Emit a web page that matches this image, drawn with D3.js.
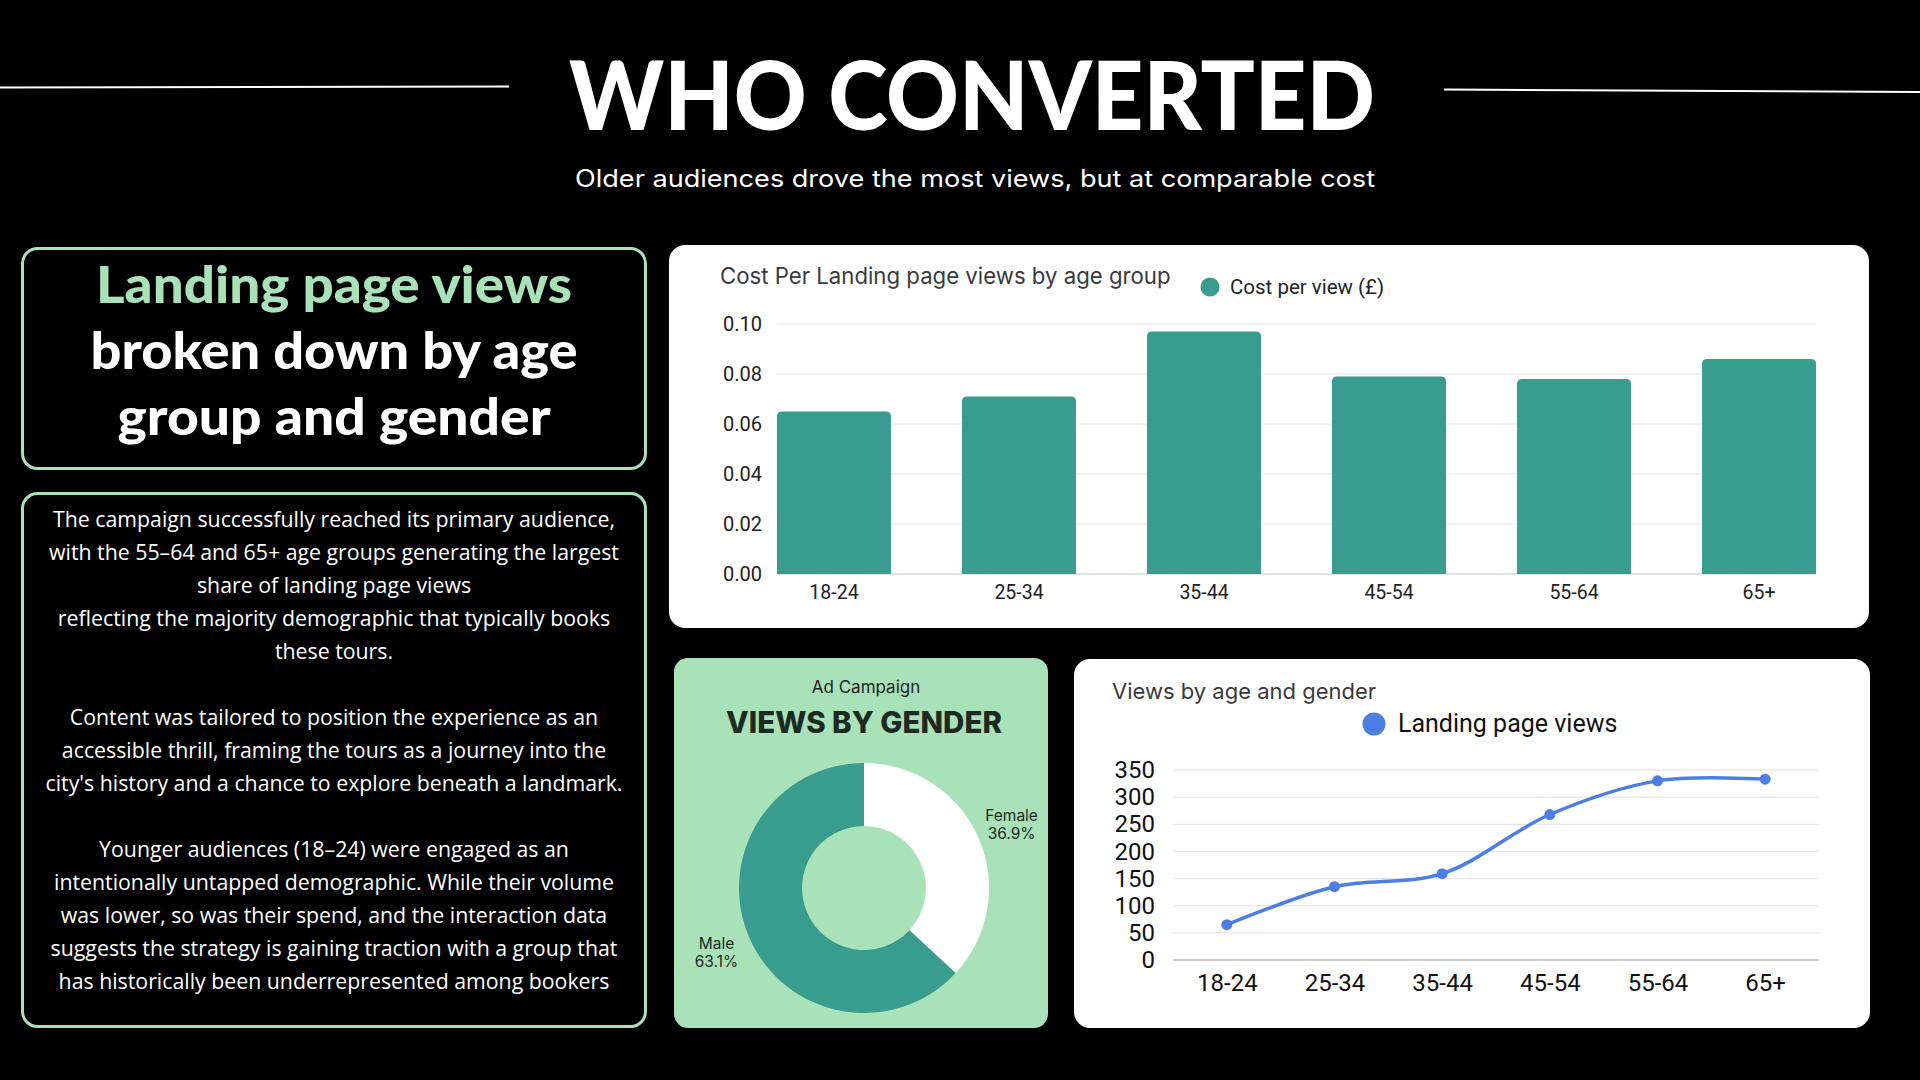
<!DOCTYPE html>
<html>
<head>
<meta charset="utf-8">
<script src="https://cdn.jsdelivr.net/npm/d3@7"></script>
<style>
  html, body { margin: 0; padding: 0; background: #000; }
  svg { display: block; }
</style>
</head>
<body>
<div id="chart"></div>
<script>
// chart data
const ageGroups = ["18-24", "25-34", "35-44", "45-54", "55-64", "65+"];
const costPerView = [0.065, 0.071, 0.097, 0.079, 0.078, 0.086];
const costTicks = [0, 0.02, 0.04, 0.06, 0.08, 0.10];
const landingViews = [65, 135, 159, 268, 330, 333];
const viewTicks = [0, 50, 100, 150, 200, 250, 300, 350];
const genders = ["Female", "Male"];
const genderShare = [36.9, 63.1];

const bodyLines = [
  "The campaign successfully reached its primary audience,",
  "with the 55\u201364 and 65+ age groups generating the largest",
  "share of landing page views",
  "reflecting the majority demographic that typically books",
  "these tours.",
  "",
  "Content was tailored to position the experience as an",
  "accessible thrill, framing the tours as a journey into the",
  "city's history and a chance to explore beneath a landmark.",
  "",
  "Younger audiences (18\u201324) were engaged as an",
  "intentionally untapped demographic. While their volume",
  "was lower, so was their spend, and the interaction data",
  "suggests the strategy is gaining traction with a group that",
  "has historically been underrepresented among bookers"
];

const W = 1920, H = 1080;
const teal = "#389c8f";
const mint = "#a9e2b9";
const blue = "#4d7ee3";

const svg = d3.select("#chart").append("svg")
  .attr("width", W).attr("height", H);

svg.append("rect").attr("width", W).attr("height", H).attr("fill", "#000");

// ---- header ----
svg.append("line")
  .attr("x1", 0).attr("y1", 87.5).attr("x2", 509).attr("y2", 86.5)
  .attr("stroke", "#fff").attr("stroke-width", 2);
svg.append("line")
  .attr("x1", 1444).attr("y1", 89.5).attr("x2", 1920).attr("y2", 92)
  .attr("stroke", "#fff").attr("stroke-width", 2);

svg.append("text")
  .attr("x", 569).attr("y", 130)
  .attr("textLength", 806).attr("lengthAdjust", "spacingAndGlyphs")
  .attr("font-family", "Lato, sans-serif").attr("font-weight", 900)
  .attr("font-size", 96).attr("fill", "#fff")
  .text("WHO CONVERTED");

svg.append("text")
  .attr("x", 575).attr("y", 187)
  .attr("textLength", 800).attr("lengthAdjust", "spacingAndGlyphs")
  .attr("font-family", "Inter, sans-serif")
  .attr("font-size", 24).attr("fill", "#fff")
  .text("Older audiences drove the most views, but at comparable cost");

// ---- left boxes ----
svg.append("rect")
  .attr("x", 22.5).attr("y", 248.5).attr("width", 623).attr("height", 220)
  .attr("rx", 15).attr("fill", "#000")
  .attr("stroke", mint).attr("stroke-width", 3);

// headline widths
const headline = [
  { t: "Landing page views", c: mint, y: 303, w: 476 },
  { t: "broken down by age", c: "#fff", y: 369, w: 487 },
  { t: "group and gender", c: "#fff", y: 435, w: 433 }
];
svg.append("g").selectAll("text").data(headline).join("text")
  .attr("x", 334).attr("y", d => d.y)
  .attr("text-anchor", "middle")
  .attr("textLength", d => d.w).attr("lengthAdjust", "spacingAndGlyphs")
  .attr("font-family", "Lato, sans-serif").attr("font-weight", 900)
  .attr("font-size", 51).attr("fill", d => d.c)
  .text(d => d.t);

svg.append("rect")
  .attr("x", 22.5).attr("y", 493.5).attr("width", 623).attr("height", 533)
  .attr("rx", 15).attr("fill", "#000")
  .attr("stroke", mint).attr("stroke-width", 3);

svg.append("g").selectAll("text").data(bodyLines).join("text")
  .attr("x", 334).attr("y", (d, i) => 527 + 33 * i)
  .attr("text-anchor", "middle")
  .attr("font-family", "'Open Sans', sans-serif")
  .attr("font-size", 21.3).attr("fill", "#fff")
  .text(d => d);

// ---- bar chart panel ----
svg.append("rect")
  .attr("x", 669).attr("y", 245).attr("width", 1200).attr("height", 383)
  .attr("rx", 16).attr("fill", "#fff");

svg.append("text")
  .attr("x", 720).attr("y", 284)
  .attr("font-family", "Inter, sans-serif")
  .attr("font-size", 22.2).attr("fill", "#3a3a3a")
  .text("Cost Per Landing page views by age group");

svg.append("circle").attr("cx", 1210).attr("cy", 287).attr("r", 9.5).attr("fill", teal);
svg.append("text")
  .attr("x", 1230).attr("y", 293.5)
  .attr("font-family", "Roboto, sans-serif")
  .attr("font-size", 20.5).attr("fill", "#222")
  .text("Cost per view (\u00a3)");

const xBar = d3.scaleBand().domain(ageGroups).range([777, 1816])
  .paddingInner(0.384).paddingOuter(0);
const yBar = d3.scaleLinear().domain([0, 0.1]).range([574, 324]);

const barGrid = svg.append("g");
barGrid.selectAll("line").data(costTicks).join("line")
  .attr("x1", 777).attr("x2", 1816)
  .attr("y1", d => yBar(d)).attr("y2", d => yBar(d))
  .attr("stroke", d => d === 0 ? "#c8c8c8" : "#e4e4e4")
  .attr("stroke-width", 1);

const yBarAxis = d3.axisLeft(yBar).tickValues(costTicks)
  .tickFormat(d3.format(".2f")).tickSize(0).tickPadding(0);
svg.append("g").attr("transform", "translate(762,0)").call(yBarAxis)
  .call(g => g.select(".domain").remove())
  .call(g => g.selectAll("text")
    .attr("font-family", "Roboto, sans-serif").attr("font-size", 20).attr("fill", "#202124"));

const rTop = 5;
svg.append("g").selectAll("path")
  .data(ageGroups.map((a, i) => ({ age: a, v: costPerView[i] })))
  .join("path")
  .attr("fill", teal)
  .attr("d", d => {
    const x0 = xBar(d.age), x1 = x0 + xBar.bandwidth();
    const y0 = yBar(0), y1 = yBar(d.v);
    return `M${x0},${y0}V${y1 + rTop}Q${x0},${y1} ${x0 + rTop},${y1}H${x1 - rTop}Q${x1},${y1} ${x1},${y1 + rTop}V${y0}Z`;
  });

const xBarAxis = d3.axisBottom(xBar).tickSize(0).tickPadding(0);
svg.append("g").attr("transform", "translate(0,585)").call(xBarAxis)
  .call(g => g.select(".domain").remove())
  .call(g => g.selectAll("text")
    .attr("font-family", "Roboto, sans-serif").attr("font-size", 19.5).attr("fill", "#202124"));

// ---- donut panel ----
svg.append("rect")
  .attr("x", 674).attr("y", 658).attr("width", 374).attr("height", 370)
  .attr("rx", 14).attr("fill", mint);

svg.append("text")
  .attr("x", 866).attr("y", 693).attr("text-anchor", "middle")
  .attr("font-family", "Inter, sans-serif")
  .attr("font-size", 17).attr("fill", "#222")
  .text("Ad Campaign");
svg.append("text")
  .attr("x", 864).attr("y", 733).attr("text-anchor", "middle")
  .attr("font-family", "Inter, sans-serif").attr("font-weight", 800)
  .attr("font-size", 29.5).attr("fill", "#1c2a22")
  .text("VIEWS BY GENDER");

const pie = d3.pie().sort(null).value(d => d.v);
const pieData = pie(genders.map((g, i) => ({ g, v: genderShare[i] })));
const arc = d3.arc().innerRadius(62).outerRadius(125);
const labelArc = d3.arc().innerRadius(161).outerRadius(161);
const gColor = d3.scaleOrdinal().domain(genders).range(["#ffffff", teal]);

const donut = svg.append("g").attr("transform", "translate(864,888)");
donut.selectAll("path").data(pieData).join("path")
  .attr("d", arc).attr("fill", d => gColor(d.data.g));

const lbl = donut.selectAll("text").data(pieData).join("text")
  .attr("transform", d => `translate(${labelArc.centroid(d)})`)
  .attr("text-anchor", "middle")
  .attr("font-family", "Inter, sans-serif")
  .attr("font-size", 15.5).attr("fill", "#1c2a22");
lbl.append("tspan").attr("x", 0).attr("y", -3).text(d => d.data.g);
lbl.append("tspan").attr("x", 0).attr("y", 15).text(d => d.data.v.toFixed(1) + "%");

// ---- line chart panel ----
svg.append("rect")
  .attr("x", 1074).attr("y", 659).attr("width", 796).attr("height", 369)
  .attr("rx", 16).attr("fill", "#fff");

svg.append("text")
  .attr("x", 1112).attr("y", 699)
  .attr("font-family", "Inter, sans-serif")
  .attr("font-size", 22).attr("fill", "#3a3a3a")
  .text("Views by age and gender");

svg.append("circle").attr("cx", 1374).attr("cy", 724).attr("r", 11.5).attr("fill", blue);
svg.append("text")
  .attr("x", 1398).attr("y", 732)
  .attr("font-family", "Roboto, sans-serif")
  .attr("font-size", 25).attr("fill", "#111")
  .text("Landing page views");

const xLine = d3.scalePoint().domain(ageGroups).range([1173, 1819]).padding(0.5);
const yLine = d3.scaleLinear().domain([0, 350]).range([960, 770]);

svg.append("g").selectAll("line").data(viewTicks).join("line")
  .attr("x1", 1173).attr("x2", 1819)
  .attr("y1", d => yLine(d)).attr("y2", d => yLine(d))
  .attr("stroke", d => d === 0 ? "#bdbdbd" : "#e2e2e2")
  .attr("stroke-width", d => d === 0 ? 1.5 : 1);

const yLineAxis = d3.axisLeft(yLine).tickValues(viewTicks).tickSize(0).tickPadding(0);
svg.append("g").attr("transform", "translate(1155,0)").call(yLineAxis)
  .call(g => g.select(".domain").remove())
  .call(g => g.selectAll("text")
    .attr("font-family", "Roboto, sans-serif").attr("font-size", 24).attr("fill", "#111"));

const xLineAxis = d3.axisBottom(xLine).tickSize(0).tickPadding(0);
svg.append("g").attr("transform", "translate(0,974)").call(xLineAxis)
  .call(g => g.select(".domain").remove())
  .call(g => g.selectAll("text")
    .attr("font-family", "Roboto, sans-serif").attr("font-size", 24).attr("fill", "#111"));

const linePts = ageGroups.map((a, i) => ({ age: a, v: landingViews[i] }));
const line = d3.line()
  .x(d => xLine(d.age)).y(d => yLine(d.v))
  .curve(d3.curveCatmullRom.alpha(0.5));

svg.append("path").datum(linePts)
  .attr("d", line).attr("fill", "none")
  .attr("stroke", blue).attr("stroke-width", 3.5)
  .attr("stroke-linejoin", "round").attr("stroke-linecap", "round");

svg.append("g").selectAll("circle").data(linePts).join("circle")
  .attr("cx", d => xLine(d.age)).attr("cy", d => yLine(d.v))
  .attr("r", 5.5).attr("fill", blue);
</script>
</body>
</html>
